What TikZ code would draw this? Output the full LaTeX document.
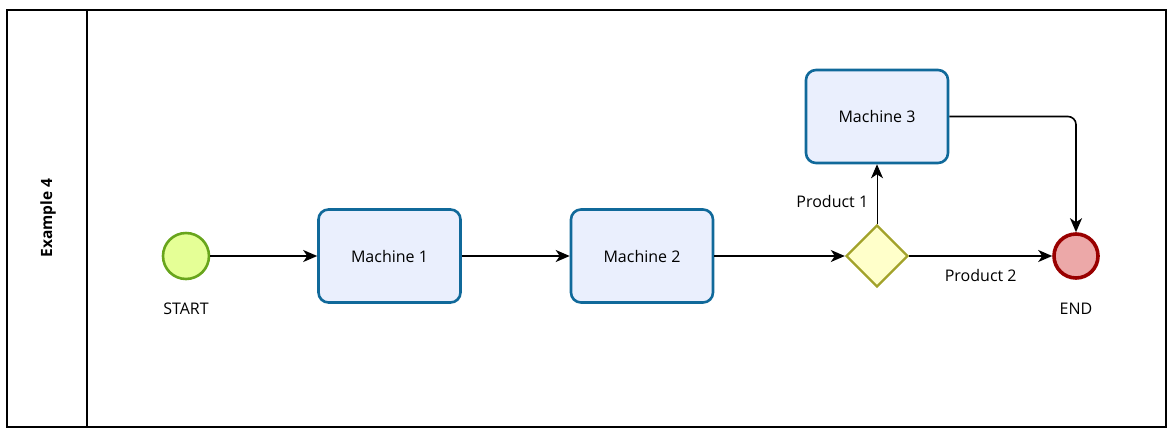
\documentclass[tikz,border=0pt]{standalone}
\usepackage{fontspec}
\setmainfont{Open Sans}
\usetikzlibrary{arrows.meta,shapes.geometric}
\definecolor{taskline}{HTML}{10699A}
\definecolor{taskfill}{HTML}{EAEFFD}
\definecolor{startline}{HTML}{68A51C}
\definecolor{startfill}{HTML}{E5FF96}
\definecolor{endline}{HTML}{990000}
\definecolor{endfill}{HTML}{ECA8A8}
\definecolor{gateline}{HTML}{A2A22A}
\definecolor{gatefill}{HTML}{FFFFCA}
\begin{document}
\begin{tikzpicture}[x=1pt,y=-1pt,
  task/.style={draw=taskline,fill=taskfill,line width=2.6pt,rounded corners=10pt,
    minimum width=142pt,minimum height=93pt,font=\fontsize{16}{19}\selectfont},
  startev/.style={circle,draw=startline,fill=startfill,line width=2.6pt,minimum size=46pt},
  endev/.style={circle,draw=endline,fill=endfill,line width=3.6pt,minimum size=44pt},
  gate/.style={diamond,draw=gateline,fill=gatefill,line width=2.4pt,minimum size=62pt,inner sep=0pt},
  lbl/.style={font=\fontsize{16}{19}\selectfont},
  flow/.style={-{Stealth[length=14pt,width=12pt,inset=4pt]},line width=1.6pt}]
\useasboundingbox (0,0) rectangle (1174,437);
\draw[line width=1.2pt] (7,10) rectangle (1166,427);
\draw[line width=1.2pt] (87,10) -- (87,427);
\node[rotate=90,font=\bfseries\fontsize{15.5}{18}\selectfont] (lane) at (48,218) {Example 4};
\node[startev] (start) at (186,256) {};
\node[lbl] (startlbl) at (186,309) {START};
\node[task] (m1) at (389.5,256) {Machine 1};
\node[task] (m2) at (642,256) {Machine 2};
\node[gate] (gw) at (877,256) {};
\node[task] (m3) at (877,116.5) {Machine 3};
\node[endev] (end) at (1076,256) {};
\node[lbl] (endlbl) at (1076,309) {END};
\draw[flow] (start) -- (m1);
\draw[flow] (m1) -- (m2);
\draw[flow] (m2) -- (gw);
\draw[flow,line width=1pt] (gw) -- node[lbl,left=5pt,pos=0.38] (p1) {Product 1} (m3);
\draw[flow] (gw) -- node[lbl,below=9pt,pos=0.5] (p2) {Product 2} (end);
\draw[flow,rounded corners=8pt] (m3.east) -- (end.north |- m3.east) -- (end);
\end{tikzpicture}
\end{document}
